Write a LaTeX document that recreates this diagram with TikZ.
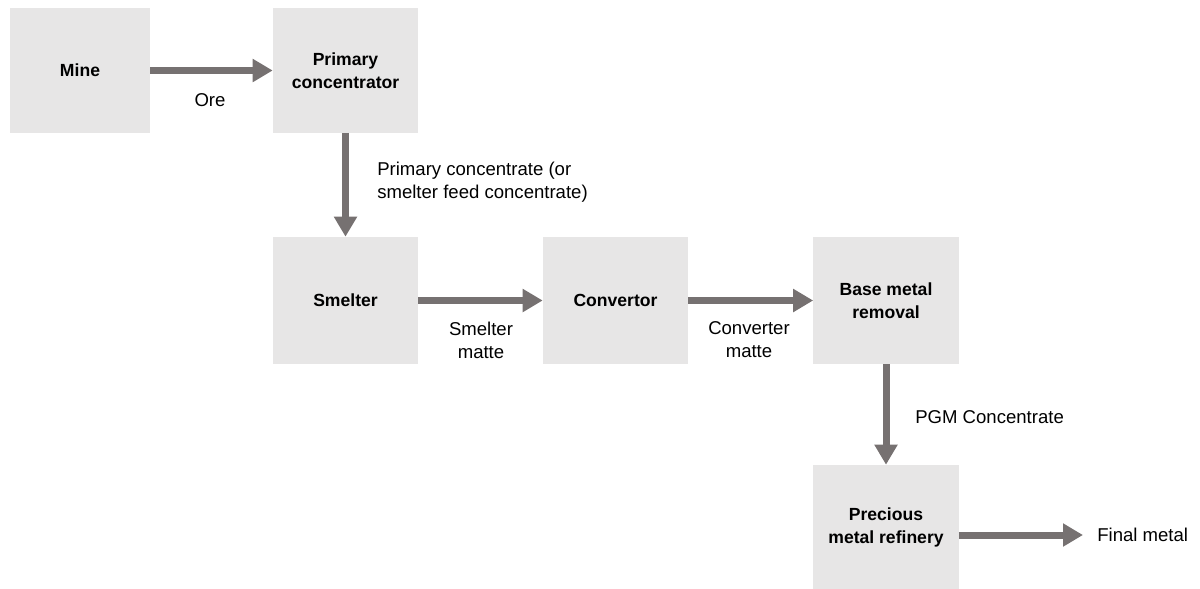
\documentclass[tikz,border=0pt]{standalone}
\usepackage{fontspec}
\setmainfont{Liberation Sans}
\definecolor{boxgrau}{HTML}{E7E6E6}
\definecolor{pfeilgrau}{HTML}{767171}
\usetikzlibrary{arrows.meta, positioning}

\begin{document}
\begin{tikzpicture}[x=0.025cm, y=-0.025cm,
    every node/.style={font=\fontsize{13.2}{16.3}\selectfont}]
        \tikzset{
          stage/.style={fill=boxgrau, align=center,
                 minimum width=3.625cm, minimum height=3.1cm,
                 font=\fontsize{12.5}{16}\selectfont\bfseries},
          flow/.style={-{Triangle[length=0.5cm, width=0.55cm]},
                 line width=0.175cm, pfeilgrau},
          flowlabel/.style={align=center, inner sep=0pt}
        }
        \useasboundingbox (0,0) rectangle (1200,588);
        \node[stage, minimum width=3.5cm] (mine) at (80, 70.5) {Mine};
        \node[stage] (conc) at (345.5, 70.5) {Primary\\concentrator};
        \node[stage, minimum height=3.175cm] (smelter) at (345.5, 300.5) {Smelter};
        \node[stage, minimum height=3.175cm] (convertor) at (615.5, 300.5) {Convertor};
        \node[stage, minimum height=3.175cm] (bmr) at (886, 300.5) {Base metal\\removal};
        \node[stage, minimum height=3.125cm] (pmr) at (886, 527.5) {Precious\\metal refinery};
        \node[anchor=west, inner xsep=0.35cm, inner ysep=0pt] (final) at (1083, 535) {Final metal};
        \draw[flow] (mine.east) -- (conc.west);
        \draw[flow] (conc.south) -- (smelter.north);
        \draw[flow] (smelter.east) -- (convertor.west);
        \draw[flow] (convertor.east) -- (bmr.west);
        \draw[flow] (bmr.south) -- (pmr.north);
        \draw[flow] (pmr.east |- final.west) -- (final.west);
        \node[flowlabel] (ore) at (210, 100) {Ore};
        \node[flowlabel, align=left, anchor=west] (primconc) at (377, 182) {Primary concentrate (or\\smelter feed concentrate)};
        \node[flowlabel] (smatte) at (481, 340) {Smelter\\matte};
        \node[flowlabel] (cmatte) at (749, 340) {Converter\\matte};
        \node[flowlabel, anchor=west] (pgm) at (915, 417) {PGM Concentrate};
      \end{tikzpicture}
\end{document}
